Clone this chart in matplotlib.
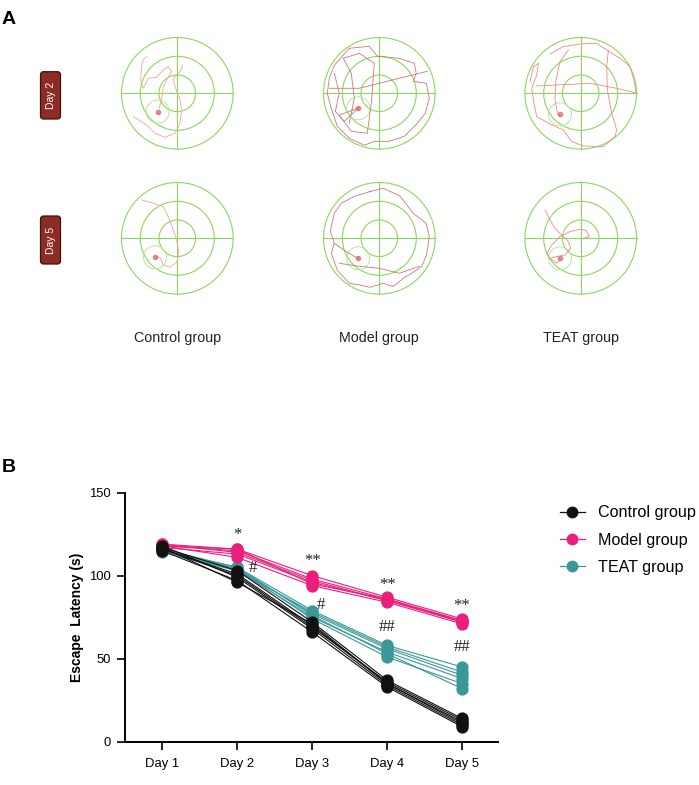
import matplotlib.pyplot as plt
import numpy as np
from matplotlib.patches import Circle, FancyBboxPatch
from matplotlib.lines import Line2D

plt.rcParams['font.family'] = ['Liberation Sans', 'DejaVu Sans']

# ---- panel B data: escape latency (s), one row per animal ----
days = ["Day 1", "Day 2", "Day 3", "Day 4", "Day 5"]
control = [
    [117, 103, 72, 37, 14],
    [116, 101, 70, 35, 12],
    [118, 99, 68, 34, 10],
    [115, 97, 66, 33, 9],
    [116, 100, 69, 36, 13],
    [117, 96, 71, 35, 11],
]
model = [
    [119, 116, 100, 87, 74],
    [118, 115, 98, 86, 73],
    [117, 113, 96, 85, 72],
    [118, 111, 94, 84, 71],
    [119, 114, 97, 85, 73],
    [118, 116, 95, 86, 72],
]
teat = [
    [115, 105, 79, 58, 45],
    [116, 104, 77, 56, 40],
    [114, 103, 75, 54, 38],
    [115, 104, 74, 51, 35],
    [116, 105, 76, 53, 32],
    [115, 103, 78, 57, 42],
]
# significance marks: (day index, y value, text)
model_marks = [(1, 124.5, "*"), (2, 109, "**"), (3, 94.5, "**"), (4, 82, "**")]
teat_marks = [(1.21, 104.5, "#"), (2.12, 82.5, "#"), (3, 69, "##"), (4, 57, "##")]

# ---- panel A data: swim paths, pixel offsets from pool centre ----
group_names = ["Control group", "Model group", "TEAT group"]
day_rows = ["Day 2", "Day 5"]
paths_d2_control = [
    [(-30.7, -36.7), (-34, -34), (-35.7, -26.7), (-36.7, -13.3), (-34, -5), (-29, -15),
     (-20.7, -16), (-14, -23.3), (-9, -26.7), (-5.7, -21.7), (-10.7, -13.3), (-14, -6),
     (-15.7, 5), (-18, 15)],
    [(-44, 23.3), (-37.3, 27.3), (-29, 33.3), (-22.3, 40), (-12.3, 44), (-2.3, 40), (2.7, 30),
     (4.3, 16.7), (2.7, 6.7), (-2.3, -6.7), (-4, -15), (2.7, -21.7), (5.3, -28.3)],
]
paths_d2_model = [
    [(-30, -45), (-10, -47), (-2, -37), (20, -35), (35, -30), (37, -20), (34, -12), (47, -10),
     (50, 5), (46, 20), (38, 30), (25, 43), (10, 48), (-5, 48), (-15, 52), (-30, 45),
     (-42, 33), (-48, 15), (-52, 0), (-50, -15), (-45, -28), (-30, -45)],
    [(-50, -5), (-20, -5), (20, -15), (48, -22)],
    [(-30, 30), (-25, 5), (-28, -20), (-36, -35), (-20, -40), (-5, -30), (-8, 10), (-12, 40),
     (-28, 38), (-40, 22), (-30, 18), (-21, 15)],
    [(-45, -20), (-40, 0), (-44, 18), (-35, 28), (-21, 15)],
]
paths_d2_teat = [
    [(-30.7, -39.3), (-17.3, -46.7), (-0.7, -49.3), (16, -50), (26, -43.3), (39.3, -35),
     (49.3, -26.7), (53.3, -13.3), (55.3, -0.7)],
    [(-44.7, -7.3), (9.3, -10), (36, -5), (54.3, -0.7)],
    [(-50.7, -11.7), (-47.3, -26.7), (-42.3, -30), (-44, -18.3), (-49, -5), (-46.7, 10),
     (-44, 23.3), (-30.7, 30.7), (-17.3, 36.7), (-9, 48.3), (2.7, 52.7), (22.7, 53.3),
     (34.3, 43.3), (36, 36.7), (31, 20), (26.7, -3.3), (26, -26.7), (27.7, -43.3)],
    [(-12.3, -43.3), (-20.7, -31.7), (-24.7, -13.3), (-25.7, 6.7), (-23.3, 20), (-21.3, 22.7)],
]
paths_d5_control = [
    [(-35.7, -38.3), (-24, -35), (-14, -31.7), (-9, -21.7), (-4, -8.3), (-0.7, 1.7), (1.7, 15),
     (-0.7, 24.3), (-7.3, 29), (-14, 26.7), (-17.3, 19), (-21.3, 19)],
]
paths_d5_model = [
    [(-9.3, -46.7), (4, -50), (20.7, -42.3), (34, -25), (46.7, -15), (50, -1.7), (47.3, 16.7),
     (42.3, 28.3), (32.3, 35), (24, 40), (14, 48.3), (4, 45), (-9.3, 49), (-19.3, 46.7),
     (-30, 45), (-42, 32), (-48, 15), (-45, 5), (-49, -7), (-45, -25), (-38, -35),
     (-25, -42), (-9.3, -46.7)],
    [(-45, 5), (-35, 12), (-25, 18), (-21, 20)],
    [(-40, 25), (-20, 28), (0, 30), (20, 35), (40, 28)],
]
paths_d5_teat = [
    [(-35.7, -28.3), (-30.7, -18.3), (-25.7, -10), (-19, -3.3), (-12.3, 3.3), (-10, 10),
     (-15.7, 16.7), (-24, 18.3), (-30.7, 20), (-34, 15), (-29, 6.7), (-20.7, -1.7),
     (-10.7, -6.7), (-0.7, -9), (5.3, -7.7), (8.7, -1.7), (2.7, 0)],
    [(-30.7, 20), (-24, 25), (-21, 22)],
]
platform_d2 = [(-19.7, 18.3), (-21, 15), (-20.7, 21)]
platform_d5 = [(-22.3, 19), (-21, 20), (-20.7, 20)]

fig = plt.figure(figsize=(6.99, 7.85), dpi=100)

# ---------- panel A (drawn in pixel coordinates) ----------
axa = fig.add_axes([0, 0, 1, 1])
axa.set_xlim(0, 699)
axa.set_ylim(785, 0)
axa.axis("off")
axa.patch.set_visible(False)

pool_x = [177.3, 379.3, 580.7]
pool_y = [93.3, 238.3]
green = "#8ed660"
all_paths = [[paths_d2_control, paths_d2_model, paths_d2_teat],
             [paths_d5_control, paths_d5_model, paths_d5_teat]]
platforms = [platform_d2, platform_d5]
path_colors = ["#f2a59a", "#c87a78", "#f08a80"]

for r, cy in enumerate(pool_y):
    for c, cx in enumerate(pool_x):
        for rad in (55.8, 37, 18.3):
            axa.add_patch(Circle((cx, cy), rad, fill=False, ec=green, lw=0.8))
        axa.plot([cx - 55.8, cx + 55.8], [cy, cy], color=green, lw=0.8)
        axa.plot([cx, cx], [cy - 55.8, cy + 55.8], color=green, lw=0.8)
        px, py = platforms[r][c]
        axa.add_patch(Circle((cx + px, cy + py), 11.5, fill=False, ec="#b8e6a0", lw=0.7))
        for p in all_paths[r][c]:
            p = np.array(p)
            axa.plot(cx + p[:, 0], cy + p[:, 1], color=path_colors[c], lw=0.6)
        axa.plot(cx + px, cy + py, "o", ms=3, color="#e06060", alpha=0.7)

box_y = [(70.7, 120), (215, 265)]
for (y0, y1), lab in zip(box_y, day_rows):
    axa.add_patch(FancyBboxPatch((41.5, y0 + 2), 18, y1 - y0 - 4,
                                 boxstyle="round,pad=1,rounding_size=3",
                                 fc="#8e2b26", ec="#3a1512", lw=0.9))
    axa.text(50.5, (y0 + y1) / 2, lab, rotation=90, color="white",
             fontsize=7.5, ha="center", va="center")

for cx, name in zip(pool_x, group_names):
    axa.text(cx, 338, name, fontsize=10.3, ha="center", va="center", color="#222222")

axa.text(2, 20, "A", fontsize=14, fontweight="bold", va="center", ha="left")
axa.text(2, 467, "B", fontsize=14, fontweight="bold", va="center", ha="left")

# ---------- panel B ----------
ax = fig.add_axes([125 / 699, 1 - 741.7 / 785, 373 / 699, 249 / 785])
x = np.arange(len(days))
c_black, c_pink, c_teal = "#111111", "#ea1f7c", "#3a9898"

for rows, col in [(teat, c_teal), (model, c_pink), (control, c_black)]:
    for row in rows:
        ax.plot(x, row, "-o", color=col, lw=0.8, ms=7.8, mec=col, clip_on=False)

for xi, yi, s in model_marks:
    ax.text(xi, yi, s, ha="center", va="center", fontsize=12, color="#222222",
            family="Liberation Serif")
for xi, yi, s in teat_marks:
    ax.text(xi, yi, s, ha="center", va="center", fontsize=12, color="#222222",
            family="Liberation Serif")

ax.set_xlim(-0.5, 4.48)
ax.set_ylim(0, 150)
ax.set_yticks([0, 50, 100, 150])
ax.set_xticks(x)
ax.set_xticklabels(days)
ax.tick_params(labelsize=9.4, length=6, width=1.2, pad=4)
ax.tick_params(axis="x", pad=6)
for s in ("top", "right"):
    ax.spines[s].set_visible(False)
for s in ("left", "bottom"):
    ax.spines[s].set_linewidth(1.4)
ax.set_ylabel("Escape  Latency (s)", fontsize=10, fontweight="bold", labelpad=4)

handles = [Line2D([], [], color=c, marker="o", ms=7.5, lw=0.9)
           for c in (c_black, c_pink, c_teal)]
fig.legend(handles, group_names, loc="center left", bbox_to_anchor=(545 / 699, 1 - 540 / 785),
           frameon=False, fontsize=11.6, handlelength=1.6, handletextpad=0.8,
           labelspacing=0.75)

fig.savefig("out.png", dpi=100)
